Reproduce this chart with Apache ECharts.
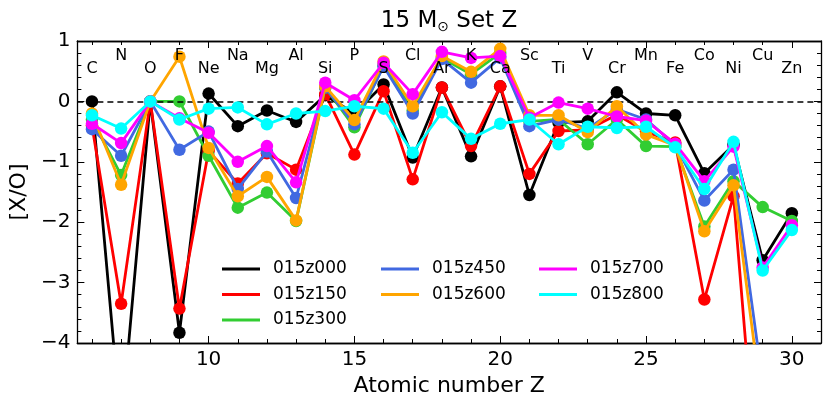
<!DOCTYPE html>
<html>
<head>
    <meta charset="UTF-8">
    <title>15 Msun Set Z</title>
    <script src="https://cdn.jsdelivr.net/npm/echarts@6/dist/echarts.min.js"></script>
    <style>
        html, body { margin: 0; padding: 0; background: #fff; }
        #main { width: 830px; height: 415px; }
    </style>
</head>
<body>
<div id="main"></div>
<script type="text/javascript">
    // atomic number and element names
    var zNums = [6, 7, 8, 9, 10, 11, 12, 13, 14, 15, 16, 17, 18, 19, 20, 21, 22, 23, 24, 25, 26, 27, 28, 29, 30];
    var elements = ['C', 'N', 'O', 'F', 'Ne', 'Na', 'Mg', 'Al', 'Si', 'P', 'S', 'Cl', 'Ar', 'K', 'Ca', 'Sc', 'Ti', 'V', 'Cr', 'Mn', 'Fe', 'Co', 'Ni', 'Cu', 'Zn'];
    // [X/O] per model
    var z000 = [0.0, -5.4, 0, -3.83, 0.13, -0.41, -0.15, -0.34, 0.1, -0.2, 0.28, -0.93, 0.23, -0.91, 0.25, -1.55, -0.35, -0.33, 0.15, -0.2, -0.23, -1.19, -0.72, -2.63, -1.85];
    var z150 = [-0.4, -3.35, 0, -3.43, -0.82, -1.36, -0.86, -1.13, 0.12, -0.88, 0.17, -1.29, 0.23, -0.74, 0.25, -1.2, -0.49, -0.47, -0.22, -0.5, -0.68, -3.28, -1.57, -7.4, null];
    var z300 = [-0.3, -1.22, 0, 0.0, -0.9, -1.76, -1.51, -1.98, 0.23, -0.43, 0.6, -0.15, 0.72, 0.45, 0.8, -0.33, -0.3, -0.71, -0.3, -0.74, -0.75, -2.07, -1.32, -1.75, -1.98];
    var z450 = [-0.46, -0.9, 0, -0.8, -0.5, -1.45, -0.83, -1.6, 0.23, -0.38, 0.58, -0.2, 0.7, 0.31, 0.72, -0.41, -0.3, -0.45, -0.13, -0.3, -0.72, -1.64, -1.13, -4.66, null];
    var z600 = [-0.2, -1.38, 0, 0.74, -0.77, -1.57, -1.25, -1.97, 0.25, -0.31, 0.66, -0.08, 0.75, 0.49, 0.87, -0.23, -0.23, -0.51, -0.08, -0.55, -0.73, -2.15, -1.39, -5.1, null];
    var z700 = [-0.37, -0.69, 0, -0.28, -0.52, -1.0, -0.74, -1.34, 0.31, 0.02, 0.64, 0.12, 0.82, 0.72, 0.75, -0.27, -0.02, -0.12, -0.25, -0.32, -0.7, -1.32, -0.75, -2.75, -2.05];
    var z800 = [-0.23, -0.45, 0, -0.3, -0.12, -0.1, -0.38, -0.2, -0.16, -0.08, -0.12, -0.85, -0.18, -0.62, -0.37, -0.3, -0.71, -0.42, -0.44, -0.42, -0.76, -1.45, -0.67, -2.8, -2.13];

    var seriesNames = ['015z000', '015z150', '015z300', '015z450', '015z600', '015z700', '015z800'];
    var seriesData = [z000, z150, z300, z450, z600, z700, z800];
    var colors = ['#000000', '#ff0000', '#32cd32', '#4169e1', '#ffa500', '#ff00ff', '#00ffff'];

    // ticks
    var xMajorTicks = [10, 15, 20, 25, 30];
    var xMinorTicks = [6, 7, 8, 9, 11, 12, 13, 14, 16, 17, 18, 19, 21, 22, 23, 24, 26, 27, 28, 29, 31];
    // label heights for element names (alternating)
    var labelHigh = 0.75;
    var labelLow = 0.545;

    var font = 'DejaVu Sans';
    var myChart = echarts.init(document.getElementById('main'));

    function minusFmt(v) {
        return v < 0 ? '\u2212' + (-v) : '' + v;
    }

    function xAxisDef(pos, ticks, len, showLabel, name) {
        return {
            type: 'value', position: pos, min: 5.5, max: 31,
            name: name || '', nameLocation: 'middle', nameGap: 32,
            nameTextStyle: { fontFamily: font, fontSize: 22, color: '#000' },
            axisLine: { show: true, onZero: false, lineStyle: { color: '#000', width: 1.3 } },
            axisTick: { show: true, inside: true, length: len, customValues: ticks, lineStyle: { color: '#000', width: 1 } },
            axisLabel: { show: showLabel, customValues: ticks, margin: 7, fontFamily: font, fontSize: 20, color: '#000' },
            splitLine: { show: false }
        };
    }

    function yAxisDef(pos, showLabel, name) {
        return {
            type: 'value', position: pos, min: -4, max: 1, interval: 1,
            name: name || '', nameLocation: 'middle', nameGap: 38,
            nameTextStyle: { fontFamily: font, fontSize: 22, color: '#000' },
            axisLine: { show: true, onZero: false, lineStyle: { color: '#000', width: 1.3 } },
            axisTick: { show: true, inside: true, length: 7, lineStyle: { color: '#000', width: 1 } },
            minorTick: { show: true, splitNumber: 5, length: 4, lineStyle: { color: '#000', width: 1 } },
            axisLabel: { show: showLabel, margin: 7, fontFamily: font, fontSize: 20, color: '#000', formatter: minusFmt },
            splitLine: { show: false }
        };
    }

    var series = [];
    for (var i = 0; i < seriesData.length; i++) {
        var pts = [];
        for (var n = 0; n < zNums.length; n++) {
            pts.push([zNums[n], seriesData[i][n]]);
        }
        series.push({
            name: seriesNames[i],
            type: 'line',
            data: pts,
            symbol: 'circle',
            symbolSize: 12.5,
            showAllSymbol: true,
            clip: true,
            z: 2 + i,
            lineStyle: { color: colors[i], width: 2.8 },
            itemStyle: { color: colors[i] },
            emphasis: { disabled: true }
        });
    }
    // dashed zero line
    series[0].markLine = {
        silent: true, symbol: 'none', animation: false,
        label: { show: false },
        lineStyle: { color: '#000', type: [6, 4], width: 1.5 },
        data: [{ yAxis: 0 }]
    };

    // element name labels, placed through the axes
    var labelPts = [];
    for (var k = 0; k < zNums.length; k++) {
        labelPts.push([zNums[k], zNums[k] % 2 === 0 ? labelLow : labelHigh, elements[k]]);
    }
    series.push({
        type: 'custom',
        data: labelPts,
        z: 20,
        silent: true,
        renderItem: function (params, api) {
            var p = api.coord([api.value(0), api.value(1)]);
            return {
                type: 'text',
                x: p[0], y: p[1],
                style: {
                    text: labelPts[params.dataIndex][2],
                    fill: '#000',
                    font: '16px "DejaVu Sans"',
                    align: 'center',
                    verticalAlign: 'middle'
                }
            };
        }
    });

    function legendDef(left, names) {
        return {
            data: names, orient: 'vertical', left: left, top: 259, padding: 0,
            icon: 'rect', itemWidth: 38, itemHeight: 3, itemGap: 5.5,
            textStyle: { fontFamily: font, fontSize: 17, color: '#000', lineHeight: 20, padding: [0, 0, 0, 8] }
        };
    }

    myChart.setOption({
        animation: false,
        title: {
            text: '{a|15 M}{s|\u2299}{a| Set Z}',
            left: 444, top: 4, textAlign: 'center',
            textStyle: {
                fontWeight: 'normal',
                rich: {
                    a: { fontFamily: font, fontSize: 23, fontWeight: 'normal', color: '#000' },
                    s: { fontFamily: font, fontSize: 14, fontWeight: 'normal', color: '#000', padding: [11, 0, 0, 0] }
                }
            }
        },
        grid: { left: 67, right: 9, top: 41, bottom: 72 },
        legend: [
            legendDef(222, seriesNames.slice(0, 3)),
            legendDef(381, seriesNames.slice(3, 5)),
            legendDef(539, seriesNames.slice(5, 7))
        ],
        xAxis: [
            xAxisDef('bottom', xMajorTicks, 7, true, 'Atomic number Z'),
            xAxisDef('bottom', xMinorTicks, 4, false),
            xAxisDef('top', xMajorTicks, 7, false),
            xAxisDef('top', xMinorTicks, 4, false)
        ],
        yAxis: [
            yAxisDef('left', true, '[X/O]'),
            yAxisDef('right', false)
        ],
        series: series
    });
</script>
</body>
</html>
